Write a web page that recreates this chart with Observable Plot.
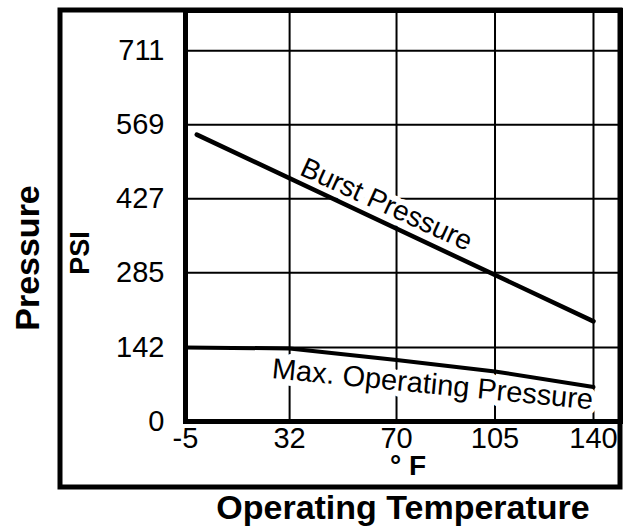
<!DOCTYPE html>
<html>
<head>
<meta charset="utf-8">
<script src="https://cdn.jsdelivr.net/npm/d3@7"></script>
<script src="https://cdn.jsdelivr.net/npm/@observablehq/plot@0.6"></script>
<style>
  html, body { margin: 0; padding: 0; background: #fff; }
  #chart { width: 624px; height: 527px; }
  #chart svg g[aria-label$="tick label"] { font-family: "Liberation Sans Narrow", "Arial Narrow", "Liberation Sans", sans-serif; font-size: 29px; }
</style>
</head>
<body>
<div id="chart"></div>
<script>
// ---- data ----
const xTicks = [-5, 32, 70, 105, 140];          // °F
const yTicks = [0, 142, 285, 427, 569, 711];     // PSI
const burstTemp = [-1, 140];
const burstPsi = [550, 192];
const maxOpTemp = [-5, 32, 70, 105, 140];
const maxOpPsi = [142, 140, 118, 96, 66];
const seriesNames = ["Burst Pressure", "Max. Operating Pressure"];
const labelTemp = [66.4, 82.8];
const labelPsi = [416, 71];

const burst = burstTemp.map((t, i) => ({temp: t, psi: burstPsi[i]}));
const maxOp = maxOpTemp.map((t, i) => ({temp: t, psi: maxOpPsi[i]}));
const labels = seriesNames.map((name, i) => ({name, temp: labelTemp[i], psi: labelPsi[i]}));

const font = "Liberation Sans, Arial, Helvetica, sans-serif";
const halo = {stroke: "white", strokeWidth: 12, strokeLinejoin: "round", paintOrder: "stroke", fill: "black"};
const title = {textAnchor: "middle", lineAnchor: "middle", fontWeight: "bold", fill: "black"};

const chart = Plot.plot({
  width: 624,
  height: 527,
  marginLeft: 185,
  marginRight: 4,
  marginTop: 10,
  marginBottom: 106,
  style: {fontFamily: font, fontSize: "26px", background: "white", color: "black", overflow: "visible"},
  x: {domain: [-5, 149.6]},
  y: {domain: [0, 788]},
  marks: [
    Plot.gridX(xTicks.slice(1), {stroke: "black", strokeOpacity: 1, strokeWidth: 2}),
    Plot.gridY(yTicks.slice(1), {stroke: "black", strokeOpacity: 1, strokeWidth: 2}),
    Plot.text([labels[0]], {x: "temp", y: "psi", text: "name", rotate: 24.5, fontSize: 28, ...halo}),
    Plot.text([labels[1]], {x: "temp", y: "psi", text: "name", rotate: 5.6, fontSize: 29, ...halo}),
    Plot.line(burst, {x: "temp", y: "psi", stroke: "black", strokeWidth: 4.5}),
    Plot.line(maxOp, {x: "temp", y: "psi", stroke: "black", strokeWidth: 4}),
    Plot.frame({stroke: "black", strokeWidth: 5}),
    Plot.axisX({ticks: xTicks, tickSize: 0, tickPadding: 6, label: null, tickFormat: d => String(d)}),
    Plot.axisY({ticks: yTicks, tickSize: 0, tickPadding: 21, label: null, tickFormat: d => String(d)}),
    Plot.text(["PSI"], {frameAnchor: "left", dx: -105, dy: 37, rotate: -90, fontSize: 27, ...title}),
    Plot.text(["Pressure"], {frameAnchor: "left", dx: -157, dy: 42, rotate: -90, fontSize: 34, ...title}),
    Plot.text(["° F"], {frameAnchor: "bottom", dx: 5, dy: 45, fontSize: 28, ...title}),
    Plot.text(["Operating Temperature"], {frameAnchor: "bottom", dy: 87, fontSize: 34, ...title})
  ]
});

// outer frame around the axis titles area
d3.select(chart).append("rect")
  .attr("x", 60).attr("y", 10).attr("width", 560).attr("height", 477)
  .attr("fill", "none").attr("stroke", "black").attr("stroke-width", 5);

document.getElementById("chart").appendChild(chart);
</script>
</body>
</html>
